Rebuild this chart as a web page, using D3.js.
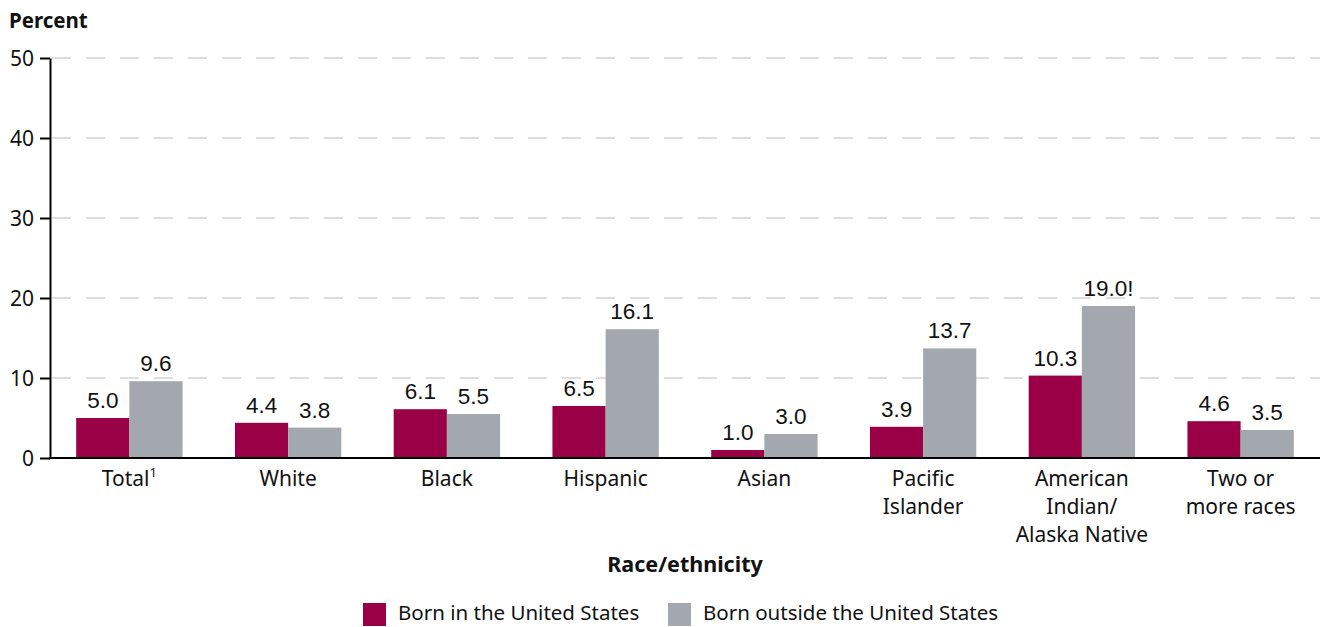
<!DOCTYPE html>
<html>
<head>
<meta charset="utf-8">
<script src="https://cdn.jsdelivr.net/npm/d3@7"></script>
<style>
	body { margin: 0; background: #fff; }
	svg { display: block; }
	.tick text { font-family: "Noto Sans", "Open Sans", sans-serif; }
</style>
</head>
<body>
<svg id="chart" width="1321" height="627"></svg>
<script>
const categories = ["Total", "White", "Black", "Hispanic", "Asian", "Pacific Islander", "American Indian/ Alaska Native", "Two or more races"];
const categoryLines = [["Total"], ["White"], ["Black"], ["Hispanic"], ["Asian"], ["Pacific", "Islander"], ["American", "Indian/", "Alaska Native"], ["Two or", "more races"]];
const seriesNames = ["Born in the United States", "Born outside the United States"];
const bornInUS = [5.0, 4.4, 6.1, 6.5, 1.0, 3.9, 10.3, 4.6];
const bornOutsideUS = [9.6, 3.8, 5.5, 16.1, 3.0, 13.7, 19.0, 3.5];
const outsideFlags = ["", "", "", "", "", "", "!", ""];
const yTicks = [0, 10, 20, 30, 40, 50];

const colors = ["#990045", "#a3a7ae"];
const font = "'Noto Sans', 'Open Sans', sans-serif";
const labelFont = "'Liberation Sans', Arial, sans-serif";

const svg = d3.select("#chart");
const margin = { top: 58, right: 1, bottom: 169, left: 50 };
const width = 1321 - margin.left - margin.right;
const height = 627 - margin.top - margin.bottom;

const g = svg.append("g").attr("transform", `translate(${margin.left},${margin.top})`);

const x = d3.scaleBand()
	.domain(categories)
	.range([0, width])
	.paddingInner(0.33)
	.paddingOuter(0.165);

const xSub = d3.scaleBand()
	.domain([0, 1])
	.range([0, x.bandwidth()]);

const y = d3.scaleLinear().domain([0, 50]).range([height, 0]);

// gridlines
g.append("g")
	.selectAll("line")
	.data(yTicks.filter(t => t > 0))
	.join("line")
	.attr("x1", 2)
	.attr("x2", width)
	.attr("y1", d => y(d))
	.attr("y2", d => y(d))
	.attr("stroke", "#bcbcc0")
	.attr("stroke-width", 1.2)
	.attr("stroke-dasharray", "19,15");

// y axis
const yAxis = g.append("g")
	.call(d3.axisLeft(y).tickValues(yTicks).tickSize(10).tickPadding(6).tickSizeOuter(0));
yAxis.select(".domain").attr("stroke", "#000").attr("stroke-width", 2);
yAxis.selectAll(".tick line").attr("stroke", "#000").attr("stroke-width", 2);
yAxis.selectAll(".tick text")
	.attr("font-size", 21)
	.attr("fill", "#111")
	.attr("dy", "0.36em");

const rows = categories.map((c, i) => ({
	cat: c,
	vals: [bornInUS[i], bornOutsideUS[i]],
	flag: outsideFlags[i]
}));

const groups = g.append("g")
	.selectAll("g")
	.data(rows)
	.join("g")
	.attr("transform", d => `translate(${x(d.cat)},0)`);

groups.selectAll("rect")
	.data(d => d.vals.map((v, k) => ({ v, k })))
	.join("rect")
	.attr("x", d => xSub(d.k))
	.attr("width", xSub.bandwidth())
	.attr("y", d => y(d.v))
	.attr("height", d => height - y(d.v))
	.attr("fill", d => colors[d.k]);

groups.selectAll("text.value")
	.data(d => d.vals.map((v, k) => ({ v, k, flag: k === 1 ? d.flag : "" })))
	.join("text")
	.attr("class", "value")
	.attr("x", d => xSub(d.k) + xSub.bandwidth() / 2)
	.attr("y", d => y(d.v) - 10)
	.attr("text-anchor", "middle")
	.attr("font-family", labelFont)
	.attr("font-size", 22.5)
	.attr("fill", "#111")
	.text(d => d.v.toFixed(1) + d.flag);

// x axis line
g.append("line")
	.attr("x1", -1)
	.attr("x2", width)
	.attr("y1", height)
	.attr("y2", height)
	.attr("stroke", "#000")
	.attr("stroke-width", 2);

// category labels
const catText = g.append("g")
	.selectAll("text")
	.data(rows.map((d, i) => ({ cat: d.cat, lines: categoryLines[i] })))
	.join("text")
	.attr("x", d => x(d.cat) + x.bandwidth() / 2)
	.attr("y", height + 28)
	.attr("text-anchor", "middle")
	.attr("font-family", font)
	.attr("font-size", 21)
	.attr("fill", "#111");

catText.each(function(d) {
	const t = d3.select(this);
	d.lines.forEach((line, j) => {
		t.append("tspan")
			.attr("x", x(d.cat) + x.bandwidth() / 2)
			.attr("dy", j === 0 ? 0 : 28)
			.text(line);
	});
	if (d.cat === "Total") {
		t.append("tspan")
			.attr("font-size", 13)
			.attr("dy", -9)
			.text("1");
	}
});

// titles
svg.append("text")
	.attr("x", 9)
	.attr("y", 28)
	.attr("font-family", font)
	.attr("font-weight", "bold")
	.attr("font-size", 20.5)
	.attr("fill", "#111")
	.text("Percent");

svg.append("text")
	.attr("x", 685)
	.attr("y", 572)
	.attr("text-anchor", "middle")
	.attr("font-family", font)
	.attr("font-weight", "bold")
	.attr("font-size", 21.5)
	.attr("fill", "#111")
	.text("Race/ethnicity");

// legend
const legendX = [363, 668];
const legend = svg.append("g")
	.selectAll("g")
	.data(seriesNames)
	.join("g")
	.attr("transform", (d, i) => `translate(${legendX[i]},603)`);

legend.append("rect")
	.attr("width", 23)
	.attr("height", 23)
	.attr("fill", (d, i) => colors[i]);

legend.append("text")
	.attr("x", 35)
	.attr("y", 17)
	.attr("font-family", font)
	.attr("font-size", 20.5)
	.attr("fill", "#111")
	.text(d => d);
</script>
</body>
</html>
